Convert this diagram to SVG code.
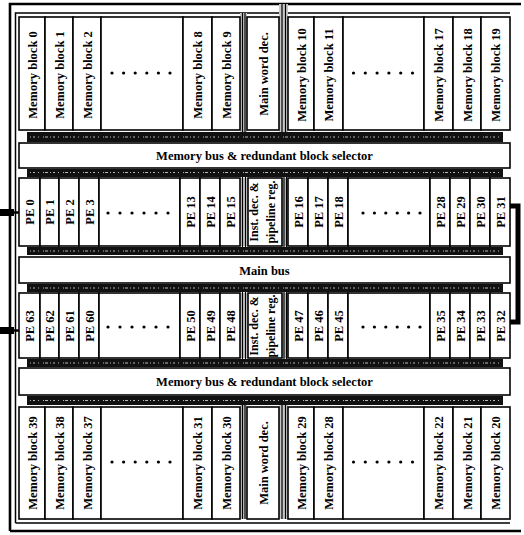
<svg xmlns="http://www.w3.org/2000/svg" width="524" height="535" viewBox="0 0 524 535">
<style>
.bg{fill:#fff}
.box{fill:#fff;stroke:#000;stroke-width:1.6}
.t{font-family:"Liberation Serif","Times New Roman",serif;font-weight:bold;font-size:12.5px;fill:#000;text-anchor:middle}
.ti{font-size:12px}
.band{fill:#111}
.speck{stroke:#fff;stroke-width:1;stroke-dasharray:1 2 2 3 1 4 1 1 3 2;opacity:.7;fill:none}
.gap{fill:#c8c8c8}
.gl{stroke:#000;stroke-width:1.2;fill:none}
.frame{stroke:#000;fill:none}
.dot{fill:#000}
</style>
<rect class="bg" x="0" y="0" width="524" height="535"/>

<!-- frame -->
<g id="frame">
<path class="frame" stroke-width="2.6" d="M10,531 V4 H521 M10,531 H521"/>
<path class="frame" stroke-width="1.5" d="M15.5,523 V13 H281 M288,13 H510 M15.5,523 H510"/>
</g>

<!-- connectors / buses -->
<g id="connectors">
<rect class="band" x="27" y="132" width="476" height="10"/>
<rect class="band" x="27" y="169" width="476" height="8"/>
<rect class="band" x="27" y="247" width="476" height="8"/>
<rect class="band" x="27" y="284" width="476" height="8"/>
<rect class="band" x="27" y="359" width="476" height="8"/>
<rect class="band" x="27" y="396" width="476" height="9"/>
<path class="speck" d="M30,137 H500 M30,172.5 H500 M30,251 H500 M30,288 H500 M30,363 H500 M30,400.5 H500"/>
<!-- hatched channels -->
<rect class="gap" x="240" y="13" width="7" height="119"/>
<rect class="gap" x="279" y="4" width="9" height="128"/>
<rect class="gap" x="240" y="178" width="8" height="68"/>
<rect class="gap" x="282" y="178" width="6" height="68"/>
<rect class="gap" x="240" y="293" width="8" height="65"/>
<rect class="gap" x="282" y="293" width="6" height="65"/>
<rect class="gap" x="240" y="405" width="7" height="114"/>
<rect class="gap" x="279" y="405" width="9" height="114"/>
<path class="gl" d="M242.5,13 V132 M245,13 V132 M282,4 V132 M285.5,4 V132
M242.5,177 V247 M245.5,177 V247 M284,177 V247 M286.5,177 V247
M242.5,292 V359 M245.5,292 V359 M284,292 V359 M286.5,292 V359
M242.5,405 V519 M245,405 V519 M282,405 V519 M285.5,405 V519"/>
<!-- side links -->
<rect x="0" y="209" width="14" height="7" fill="#000"/>
<path d="M13,212.5 H19" stroke="#000" stroke-width="2.5"/>
<rect x="0" y="327" width="14" height="7" fill="#000"/>
<path d="M13,330.5 H19" stroke="#000" stroke-width="2.5"/>
<path d="M510,206 H518 V322 H510" stroke="#000" stroke-width="5" fill="none"/>
</g>

<!-- top memory row -->
<g id="mb0"><rect class="box" x="19" y="17" width="26" height="113"/><text class="t" transform="translate(32,75) rotate(-90)" y="4.5">Memory block 0</text></g>
<g id="mb1"><rect class="box" x="45" y="17" width="28" height="113"/><text class="t" transform="translate(59,75) rotate(-90)" y="4.5">Memory block 1</text></g>
<g id="mb2"><rect class="box" x="73" y="17" width="28" height="113"/><text class="t" transform="translate(87,75) rotate(-90)" y="4.5">Memory block 2</text></g>
<g id="mbdots1"><rect class="box" x="101" y="17" width="82" height="113"/>
<g class="dot"><circle cx="112" cy="73" r="1.6"/><circle cx="123.6" cy="73" r="1.6"/><circle cx="135.2" cy="73" r="1.6"/><circle cx="146.8" cy="73" r="1.6"/><circle cx="158.4" cy="73" r="1.6"/><circle cx="170" cy="73" r="1.6"/></g></g>
<g id="mb8"><rect class="box" x="183" y="17" width="29" height="113"/><text class="t" transform="translate(197.5,75) rotate(-90)" y="4.5">Memory block 8</text></g>
<g id="mb9"><rect class="box" x="212" y="17" width="28" height="113"/><text class="t" transform="translate(226,75) rotate(-90)" y="4.5">Memory block 9</text></g>
<g id="mwd1"><rect class="box" x="247" y="17" width="32" height="113"/><text class="t" transform="translate(263,74) rotate(-90)" y="4.5">Main word dec.</text></g>
<g id="mb10"><rect class="box" x="288" y="17" width="26" height="113"/><text class="t" transform="translate(301,75) rotate(-90)" y="4.5">Memory block 10</text></g>
<g id="mb11"><rect class="box" x="314" y="17" width="29" height="113"/><text class="t" transform="translate(328.5,75) rotate(-90)" y="4.5">Memory block 11</text></g>
<g id="mbdots2"><rect class="box" x="343" y="17" width="81" height="113"/>
<g class="dot"><circle cx="353.5" cy="73" r="1.6"/><circle cx="365.3" cy="73" r="1.6"/><circle cx="377.1" cy="73" r="1.6"/><circle cx="388.9" cy="73" r="1.6"/><circle cx="400.7" cy="73" r="1.6"/><circle cx="412.5" cy="73" r="1.6"/></g></g>
<g id="mb17"><rect class="box" x="424" y="17" width="29" height="113"/><text class="t" transform="translate(438.5,75) rotate(-90)" y="4.5">Memory block 17</text></g>
<g id="mb18"><rect class="box" x="453" y="17" width="28" height="113"/><text class="t" transform="translate(467,75) rotate(-90)" y="4.5">Memory block 18</text></g>
<g id="mb19"><rect class="box" x="481" y="17" width="29" height="113"/><text class="t" transform="translate(495.5,75) rotate(-90)" y="4.5">Memory block 19</text></g>

<!-- upper memory bus -->
<g id="membus1"><rect class="box" x="19" y="143" width="491" height="25"/><text class="t" x="264.5" y="160">Memory bus &amp; redundant block selector</text></g>

<!-- upper PE row -->
<g id="pe0"><rect class="box" x="19" y="178" width="21" height="68"/><text class="t" transform="translate(29.5,212) rotate(-90)" y="4.5">PE 0</text></g>
<g id="pe1"><rect class="box" x="40" y="178" width="19" height="68"/><text class="t" transform="translate(49.5,212) rotate(-90)" y="4.5">PE 1</text></g>
<g id="pe2"><rect class="box" x="59" y="178" width="20" height="68"/><text class="t" transform="translate(69,212) rotate(-90)" y="4.5">PE 2</text></g>
<g id="pe3"><rect class="box" x="79" y="178" width="20" height="68"/><text class="t" transform="translate(89,212) rotate(-90)" y="4.5">PE 3</text></g>
<g id="pedots1"><rect class="box" x="99" y="178" width="81" height="68"/>
<g class="dot"><circle cx="108" cy="213" r="1.6"/><circle cx="120" cy="213" r="1.6"/><circle cx="132" cy="213" r="1.6"/><circle cx="144" cy="213" r="1.6"/><circle cx="156" cy="213" r="1.6"/><circle cx="168" cy="213" r="1.6"/></g></g>
<g id="pe13"><rect class="box" x="180" y="178" width="20" height="68"/><text class="t" transform="translate(190,212) rotate(-90)" y="4.5">PE 13</text></g>
<g id="pe14"><rect class="box" x="200" y="178" width="20" height="68"/><text class="t" transform="translate(210,212) rotate(-90)" y="4.5">PE 14</text></g>
<g id="pe15"><rect class="box" x="220" y="178" width="20" height="68"/><text class="t" transform="translate(230,212) rotate(-90)" y="4.5">PE 15</text></g>
<g id="inst1"><rect class="box" x="248" y="178" width="34" height="68"/><text class="t ti" transform="translate(0,212) rotate(-90)"><tspan x="0" y="258">Inst. dec. &amp;</tspan><tspan x="0" y="275">pipeline reg.</tspan></text></g>
<g id="pe16"><rect class="box" x="288" y="178" width="20" height="68"/><text class="t" transform="translate(298,212) rotate(-90)" y="4.5">PE 16</text></g>
<g id="pe17"><rect class="box" x="308" y="178" width="20" height="68"/><text class="t" transform="translate(318,212) rotate(-90)" y="4.5">PE 17</text></g>
<g id="pe18"><rect class="box" x="328" y="178" width="20" height="68"/><text class="t" transform="translate(338,212) rotate(-90)" y="4.5">PE 18</text></g>
<g id="pedots2"><rect class="box" x="348" y="178" width="82" height="68"/>
<g class="dot"><circle cx="363" cy="213" r="1.6"/><circle cx="374.4" cy="213" r="1.6"/><circle cx="385.8" cy="213" r="1.6"/><circle cx="397.2" cy="213" r="1.6"/><circle cx="408.6" cy="213" r="1.6"/><circle cx="420" cy="213" r="1.6"/></g></g>
<g id="pe28"><rect class="box" x="430" y="178" width="20" height="68"/><text class="t" transform="translate(440,212) rotate(-90)" y="4.5">PE 28</text></g>
<g id="pe29"><rect class="box" x="450" y="178" width="20" height="68"/><text class="t" transform="translate(460,212) rotate(-90)" y="4.5">PE 29</text></g>
<g id="pe30"><rect class="box" x="470" y="178" width="20" height="68"/><text class="t" transform="translate(480,212) rotate(-90)" y="4.5">PE 30</text></g>
<g id="pe31"><rect class="box" x="490" y="178" width="20" height="68"/><text class="t" transform="translate(500,212) rotate(-90)" y="4.5">PE 31</text></g>

<!-- main bus -->
<g id="mainbus"><rect class="box" x="19" y="257" width="491" height="26"/><text class="t" x="264.5" y="274.5">Main bus</text></g>

<!-- lower PE row -->
<g id="pe63"><rect class="box" x="19" y="293" width="21" height="65"/><text class="t" transform="translate(29.5,326) rotate(-90)" y="4.5">PE 63</text></g>
<g id="pe62"><rect class="box" x="40" y="293" width="19" height="65"/><text class="t" transform="translate(49.5,326) rotate(-90)" y="4.5">PE 62</text></g>
<g id="pe61"><rect class="box" x="59" y="293" width="20" height="65"/><text class="t" transform="translate(69,326) rotate(-90)" y="4.5">PE 61</text></g>
<g id="pe60"><rect class="box" x="79" y="293" width="20" height="65"/><text class="t" transform="translate(89,326) rotate(-90)" y="4.5">PE 60</text></g>
<g id="pedots3"><rect class="box" x="99" y="293" width="81" height="65"/>
<g class="dot"><circle cx="108" cy="327" r="1.6"/><circle cx="120" cy="327" r="1.6"/><circle cx="132" cy="327" r="1.6"/><circle cx="144" cy="327" r="1.6"/><circle cx="156" cy="327" r="1.6"/><circle cx="168" cy="327" r="1.6"/></g></g>
<g id="pe50"><rect class="box" x="180" y="293" width="20" height="65"/><text class="t" transform="translate(190,326) rotate(-90)" y="4.5">PE 50</text></g>
<g id="pe49"><rect class="box" x="200" y="293" width="20" height="65"/><text class="t" transform="translate(210,326) rotate(-90)" y="4.5">PE 49</text></g>
<g id="pe48"><rect class="box" x="220" y="293" width="20" height="65"/><text class="t" transform="translate(230,326) rotate(-90)" y="4.5">PE 48</text></g>
<g id="inst2"><rect class="box" x="248" y="293" width="34" height="65"/><text class="t ti" transform="translate(0,326) rotate(-90)"><tspan x="0" y="258">Inst. dec. &amp;</tspan><tspan x="0" y="275">pipeline reg.</tspan></text></g>
<g id="pe47"><rect class="box" x="288" y="293" width="20" height="65"/><text class="t" transform="translate(298,326) rotate(-90)" y="4.5">PE 47</text></g>
<g id="pe46"><rect class="box" x="308" y="293" width="20" height="65"/><text class="t" transform="translate(318,326) rotate(-90)" y="4.5">PE 46</text></g>
<g id="pe45"><rect class="box" x="328" y="293" width="20" height="65"/><text class="t" transform="translate(338,326) rotate(-90)" y="4.5">PE 45</text></g>
<g id="pedots4"><rect class="box" x="348" y="293" width="82" height="65"/>
<g class="dot"><circle cx="363" cy="327" r="1.6"/><circle cx="374.4" cy="327" r="1.6"/><circle cx="385.8" cy="327" r="1.6"/><circle cx="397.2" cy="327" r="1.6"/><circle cx="408.6" cy="327" r="1.6"/><circle cx="420" cy="327" r="1.6"/></g></g>
<g id="pe35"><rect class="box" x="430" y="293" width="20" height="65"/><text class="t" transform="translate(440,326) rotate(-90)" y="4.5">PE 35</text></g>
<g id="pe34"><rect class="box" x="450" y="293" width="20" height="65"/><text class="t" transform="translate(460,326) rotate(-90)" y="4.5">PE 34</text></g>
<g id="pe33"><rect class="box" x="470" y="293" width="20" height="65"/><text class="t" transform="translate(480,326) rotate(-90)" y="4.5">PE 33</text></g>
<g id="pe32"><rect class="box" x="490" y="293" width="20" height="65"/><text class="t" transform="translate(500,326) rotate(-90)" y="4.5">PE 32</text></g>

<!-- lower memory bus -->
<g id="membus2"><rect class="box" x="19" y="368" width="491" height="27"/><text class="t" x="264.5" y="386">Memory bus &amp; redundant block selector</text></g>

<!-- bottom memory row -->
<g id="mb39"><rect class="box" x="19" y="407" width="26" height="112"/><text class="t" transform="translate(32,463) rotate(-90)" y="4.5">Memory block 39</text></g>
<g id="mb38"><rect class="box" x="45" y="407" width="28" height="112"/><text class="t" transform="translate(59,463) rotate(-90)" y="4.5">Memory block 38</text></g>
<g id="mb37"><rect class="box" x="73" y="407" width="28" height="112"/><text class="t" transform="translate(87,463) rotate(-90)" y="4.5">Memory block 37</text></g>
<g id="mbdots3"><rect class="box" x="101" y="407" width="82" height="112"/>
<g class="dot"><circle cx="112" cy="462" r="1.6"/><circle cx="123.6" cy="462" r="1.6"/><circle cx="135.2" cy="462" r="1.6"/><circle cx="146.8" cy="462" r="1.6"/><circle cx="158.4" cy="462" r="1.6"/><circle cx="170" cy="462" r="1.6"/></g></g>
<g id="mb31"><rect class="box" x="183" y="407" width="29" height="112"/><text class="t" transform="translate(197.5,463) rotate(-90)" y="4.5">Memory block 31</text></g>
<g id="mb30"><rect class="box" x="212" y="407" width="28" height="112"/><text class="t" transform="translate(226,463) rotate(-90)" y="4.5">Memory block 30</text></g>
<g id="mwd2"><rect class="box" x="247" y="407" width="32" height="112"/><text class="t" transform="translate(263,463) rotate(-90)" y="4.5">Main word dec.</text></g>
<g id="mb29"><rect class="box" x="288" y="407" width="26" height="112"/><text class="t" transform="translate(301,463) rotate(-90)" y="4.5">Memory block 29</text></g>
<g id="mb28"><rect class="box" x="314" y="407" width="29" height="112"/><text class="t" transform="translate(328.5,463) rotate(-90)" y="4.5">Memory block 28</text></g>
<g id="mbdots4"><rect class="box" x="343" y="407" width="81" height="112"/>
<g class="dot"><circle cx="353.5" cy="462" r="1.6"/><circle cx="365.3" cy="462" r="1.6"/><circle cx="377.1" cy="462" r="1.6"/><circle cx="388.9" cy="462" r="1.6"/><circle cx="400.7" cy="462" r="1.6"/><circle cx="412.5" cy="462" r="1.6"/></g></g>
<g id="mb22"><rect class="box" x="424" y="407" width="29" height="112"/><text class="t" transform="translate(438.5,463) rotate(-90)" y="4.5">Memory block 22</text></g>
<g id="mb21"><rect class="box" x="453" y="407" width="28" height="112"/><text class="t" transform="translate(467,463) rotate(-90)" y="4.5">Memory block 21</text></g>
<g id="mb20"><rect class="box" x="481" y="407" width="29" height="112"/><text class="t" transform="translate(495.5,463) rotate(-90)" y="4.5">Memory block 20</text></g>
</svg>
